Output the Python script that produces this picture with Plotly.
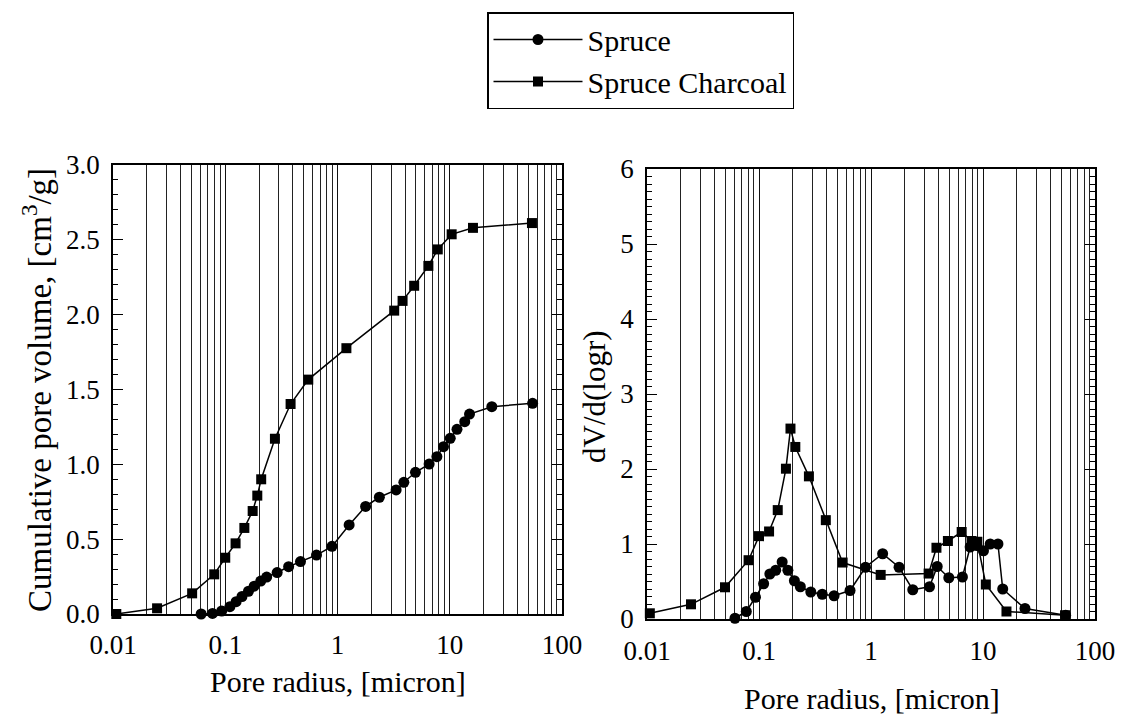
import plotly.graph_objects as go

# ---------------- data ----------------
spruce_r = [0.061, 0.077, 0.093, 0.110, 0.125, 0.141, 0.161, 0.181, 0.207, 0.234,
            0.290, 0.367, 0.468, 0.650, 0.893, 1.27, 1.78, 2.36, 3.33, 3.90,
            4.95, 6.55, 7.68, 8.80, 10.1, 11.6, 13.6, 15.0, 23.7, 54.7]
spruce_cum = [0.0, 0.004, 0.02, 0.049, 0.082, 0.117, 0.152, 0.186, 0.22, 0.247,
              0.277, 0.316, 0.35, 0.394, 0.452, 0.595, 0.719, 0.78, 0.829, 0.88,
              0.947, 1.002, 1.051, 1.118, 1.174, 1.234, 1.285, 1.336, 1.385, 1.408]
spruce_dv = [0.01, 0.10, 0.29, 0.47, 0.60, 0.65, 0.76, 0.65, 0.51, 0.43,
             0.36, 0.33, 0.31, 0.38, 0.69, 0.87, 0.69, 0.39, 0.43, 0.70,
             0.55, 0.56, 0.96, 0.98, 0.91, 1.0, 1.0, 0.40, 0.14, 0.05]

charcoal_r_cum = [0.0107, 0.0247, 0.0507, 0.0798, 0.1, 0.1236, 0.148, 0.1755, 0.193, 0.209,
                  0.277, 0.382, 0.549, 1.20, 3.20, 3.80, 4.82, 6.45, 7.82, 10.4, 16.1, 54.0]
charcoal_cum = [0.0, 0.038, 0.138, 0.265, 0.376, 0.472, 0.575, 0.688, 0.791, 0.90,
                1.171, 1.403, 1.566, 1.776, 2.027, 2.092, 2.193, 2.326, 2.436, 2.537, 2.58, 2.612]

charcoal_r_dv = [0.0106, 0.0247, 0.0497, 0.0807, 0.1, 0.123, 0.147, 0.174, 0.191, 0.211,
                 0.279, 0.395, 0.558, 1.22, 3.27, 3.84, 4.86, 6.45, 7.9, 8.9, 10.6, 16.2, 54.0]
charcoal_dv = [0.076, 0.196, 0.423, 0.784, 1.105, 1.167, 1.452, 2.004, 2.539, 2.294,
               1.902, 1.318, 0.753, 0.588, 0.606, 0.95, 1.04, 1.16, 1.04, 1.03, 0.46, 0.10, 0.05]

x_tickvals = [0.01, 0.1, 1, 10, 100]
x_ticktext = ["0.01", "0.1", "1", "10", "100"]
minor_grid = [m * 10.0 ** e for e in range(-2, 2) for m in range(2, 10)]

left_yticks = [0.0, 0.5, 1.0, 1.5, 2.0, 2.5, 3.0]
right_yticks = [0, 1, 2, 3, 4, 5, 6]

# ---------------- layout helpers ----------------
W, H = 1123, 719
FONT = "Liberation Serif"


def px(x):
    return x / W


def py(y):
    return 1 - y / H


fig = go.Figure()

line_style = dict(color="black", width=1.5)

fig.add_trace(go.Scatter(x=spruce_r, y=spruce_cum, mode="lines+markers", name="Spruce",
                         line=line_style, marker=dict(symbol="circle", size=11, color="black"),
                         xaxis="x", yaxis="y", cliponaxis=False, legendgroup="s"))
fig.add_trace(go.Scatter(x=charcoal_r_cum, y=charcoal_cum, mode="lines+markers", name="Spruce Charcoal",
                         line=line_style, marker=dict(symbol="square", size=10, color="black"),
                         xaxis="x", yaxis="y", cliponaxis=False, legendgroup="c"))
fig.add_trace(go.Scatter(x=spruce_r, y=spruce_dv, mode="lines+markers", name="Spruce",
                         line=line_style, marker=dict(symbol="circle", size=11, color="black"),
                         xaxis="x2", yaxis="y2", cliponaxis=False, showlegend=False, legendgroup="s"))
fig.add_trace(go.Scatter(x=charcoal_r_dv, y=charcoal_dv, mode="lines+markers", name="Spruce Charcoal",
                         line=line_style, marker=dict(symbol="square", size=10, color="black"),
                         xaxis="x2", yaxis="y2", cliponaxis=False, showlegend=False, legendgroup="c"))


def xaxis_common(standoff):
    return dict(
        type="log", range=[-2, 2], tickmode="array", tickvals=x_tickvals, ticktext=x_ticktext,
        showline=True, linecolor="black", linewidth=1.5, mirror=True,
        showgrid=True, gridcolor="#111", gridwidth=1,
        ticks="", ticklabelstandoff=standoff, automargin=False,
        minor=dict(tickmode="array", tickvals=minor_grid, showgrid=True,
                   gridcolor="#222", gridwidth=1, ticks=""),
        tickfont=dict(family=FONT, size=27, color="black"),
        zeroline=False, fixedrange=True,
    )


yaxis_common = dict(
    showline=True, linecolor="black", linewidth=1.5, mirror="ticks",
    ticks="inside", ticklen=10, tickwidth=1, tickcolor="black",
    showgrid=False, zeroline=False, automargin=False,
    tickfont=dict(family=FONT, size=27, color="black"),
    fixedrange=True, ticklabelstandoff=6,
)

title_font = dict(family=FONT, size=30, color="black")

fig.update_layout(
    template="none",
    width=W, height=H,
    autosize=False,
    margin=dict(l=0, r=0, t=0, b=0, pad=0),
    paper_bgcolor="white", plot_bgcolor="white",
    font=dict(family=FONT, size=27, color="black"),
    xaxis=dict(domain=[px(113), px(562)], anchor="y", **xaxis_common(6)),
    yaxis=dict(domain=[py(614), py(165)], anchor="x", range=[0, 3],
               tickmode="array", tickvals=left_yticks,
               ticktext=[f"{v:.1f}" for v in left_yticks],
               minor=dict(dtick=0.1, ticks="inside", ticklen=5, tickcolor="black", showgrid=False),
               **yaxis_common),
    xaxis2=dict(domain=[px(647), px(1095)], anchor="y2", **xaxis_common(7)),
    yaxis2=dict(domain=[py(619), py(169)], anchor="x2", range=[0, 6],
                tickmode="array", tickvals=right_yticks,
                ticktext=[str(v) for v in right_yticks],
                minor=dict(dtick=0.1, ticks="inside", ticklen=5, tickcolor="black", showgrid=False),
                **yaxis_common),
    showlegend=True,
    legend=dict(x=px(487), y=py(12), xanchor="left", yanchor="top",
                bordercolor="black", borderwidth=1.5, bgcolor="white",
                font=dict(family=FONT, size=30, color="black"),
                itemwidth=89, tracegroupgap=0),
    annotations=[
        dict(text="Cumulative pore volume, [cm<sup>3</sup>/g]", textangle=-90,
             x=px(37), y=py(390), xref="paper", yref="paper", showarrow=False,
             xanchor="center", yanchor="middle", font=dict(family=FONT, size=33, color="black")),
        dict(text="dV/d(logr)", textangle=-90,
             x=px(594), y=py(397), xref="paper", yref="paper", showarrow=False,
             xanchor="center", yanchor="middle", font=dict(family=FONT, size=31, color="black")),
        dict(text="Pore radius, [micron]",
             x=px(338), y=py(681), xref="paper", yref="paper", showarrow=False,
             xanchor="center", yanchor="middle", font=title_font),
        dict(text="Pore radius, [micron]",
             x=px(872), y=py(698), xref="paper", yref="paper", showarrow=False,
             xanchor="center", yanchor="middle", font=title_font),
    ],
)

fig.write_html("out.html")
